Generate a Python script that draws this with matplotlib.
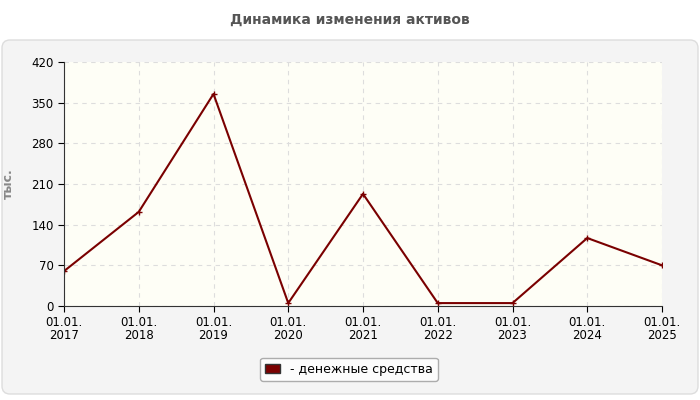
import matplotlib
matplotlib.use('Agg')
import matplotlib.pyplot as plt
from matplotlib.patches import FancyBboxPatch

years = ['01.01.\n2017', '01.01.\n2018', '01.01.\n2019', '01.01.\n2020', '01.01.\n2021',
         '01.01.\n2022', '01.01.\n2023', '01.01.\n2024', '01.01.\n2025']
cash = [60, 162, 365, 5, 193, 5, 5, 117, 70]
yticks = [0, 70, 140, 210, 280, 350, 420]

W, H, DPI = 700, 400, 100
fig = plt.figure(figsize=(W / DPI, H / DPI), dpi=DPI, facecolor='white')

# grey rounded panel
bg = fig.add_axes([0, 0, 1, 1], zorder=0)
bg.set_xlim(0, W); bg.set_ylim(H, 0); bg.axis('off')
bg.add_patch(FancyBboxPatch((2, 40), W - 4, H - 46, boxstyle='round,pad=0,rounding_size=8',
                            facecolor='#f4f4f4', edgecolor='#dddddd', linewidth=1))
fig.text(0.5, 1 - 20 / H, 'Динамика изменения активов', ha='center', va='center',
         fontsize=10, fontweight='bold', color='#555555')

ax = fig.add_axes([64 / W, 1 - 306 / H, (662 - 64) / W, (306 - 62) / H], zorder=1)
ax.set_facecolor('#fefef6')
x = range(len(cash))
ax.plot(x, cash, color='#7a0000', linewidth=1.5, marker='+', markersize=4,
        label='денежные средства')
ax.set_xlim(0, len(cash) - 1)
ax.set_ylim(0, 420)
ax.set_xticks(list(x))
ax.set_xticklabels(years, fontsize=8.5, linespacing=1.0)
ax.set_yticks(yticks)
ax.tick_params(axis='y', labelsize=8.5, length=4)
ax.tick_params(axis='x', length=4)
ax.grid(True, color='#dddddd', linestyle=(0, (4, 4)), linewidth=0.8)
for s in ['top', 'right']:
    ax.spines[s].set_visible(False)
ax.spines['left'].set_color('#333333')
ax.spines['bottom'].set_color('#333333')
ax.set_ylabel('тыс.', fontsize=9, fontweight='bold', color='#888888', labelpad=12)

leg = fig.legend(loc='center', bbox_to_anchor=(349 / W, 1 - 369 / H), fontsize=9,
                 frameon=True, fancybox=True, edgecolor='#999999', handlelength=1.2,
                 handles=[plt.Rectangle((0, 0), 1, 1, facecolor='#7a0000', edgecolor='#333333')],
                 labels=['- денежные средства'])
leg.get_frame().set_facecolor('white')

fig.savefig('out.png', dpi=DPI, facecolor='white')
